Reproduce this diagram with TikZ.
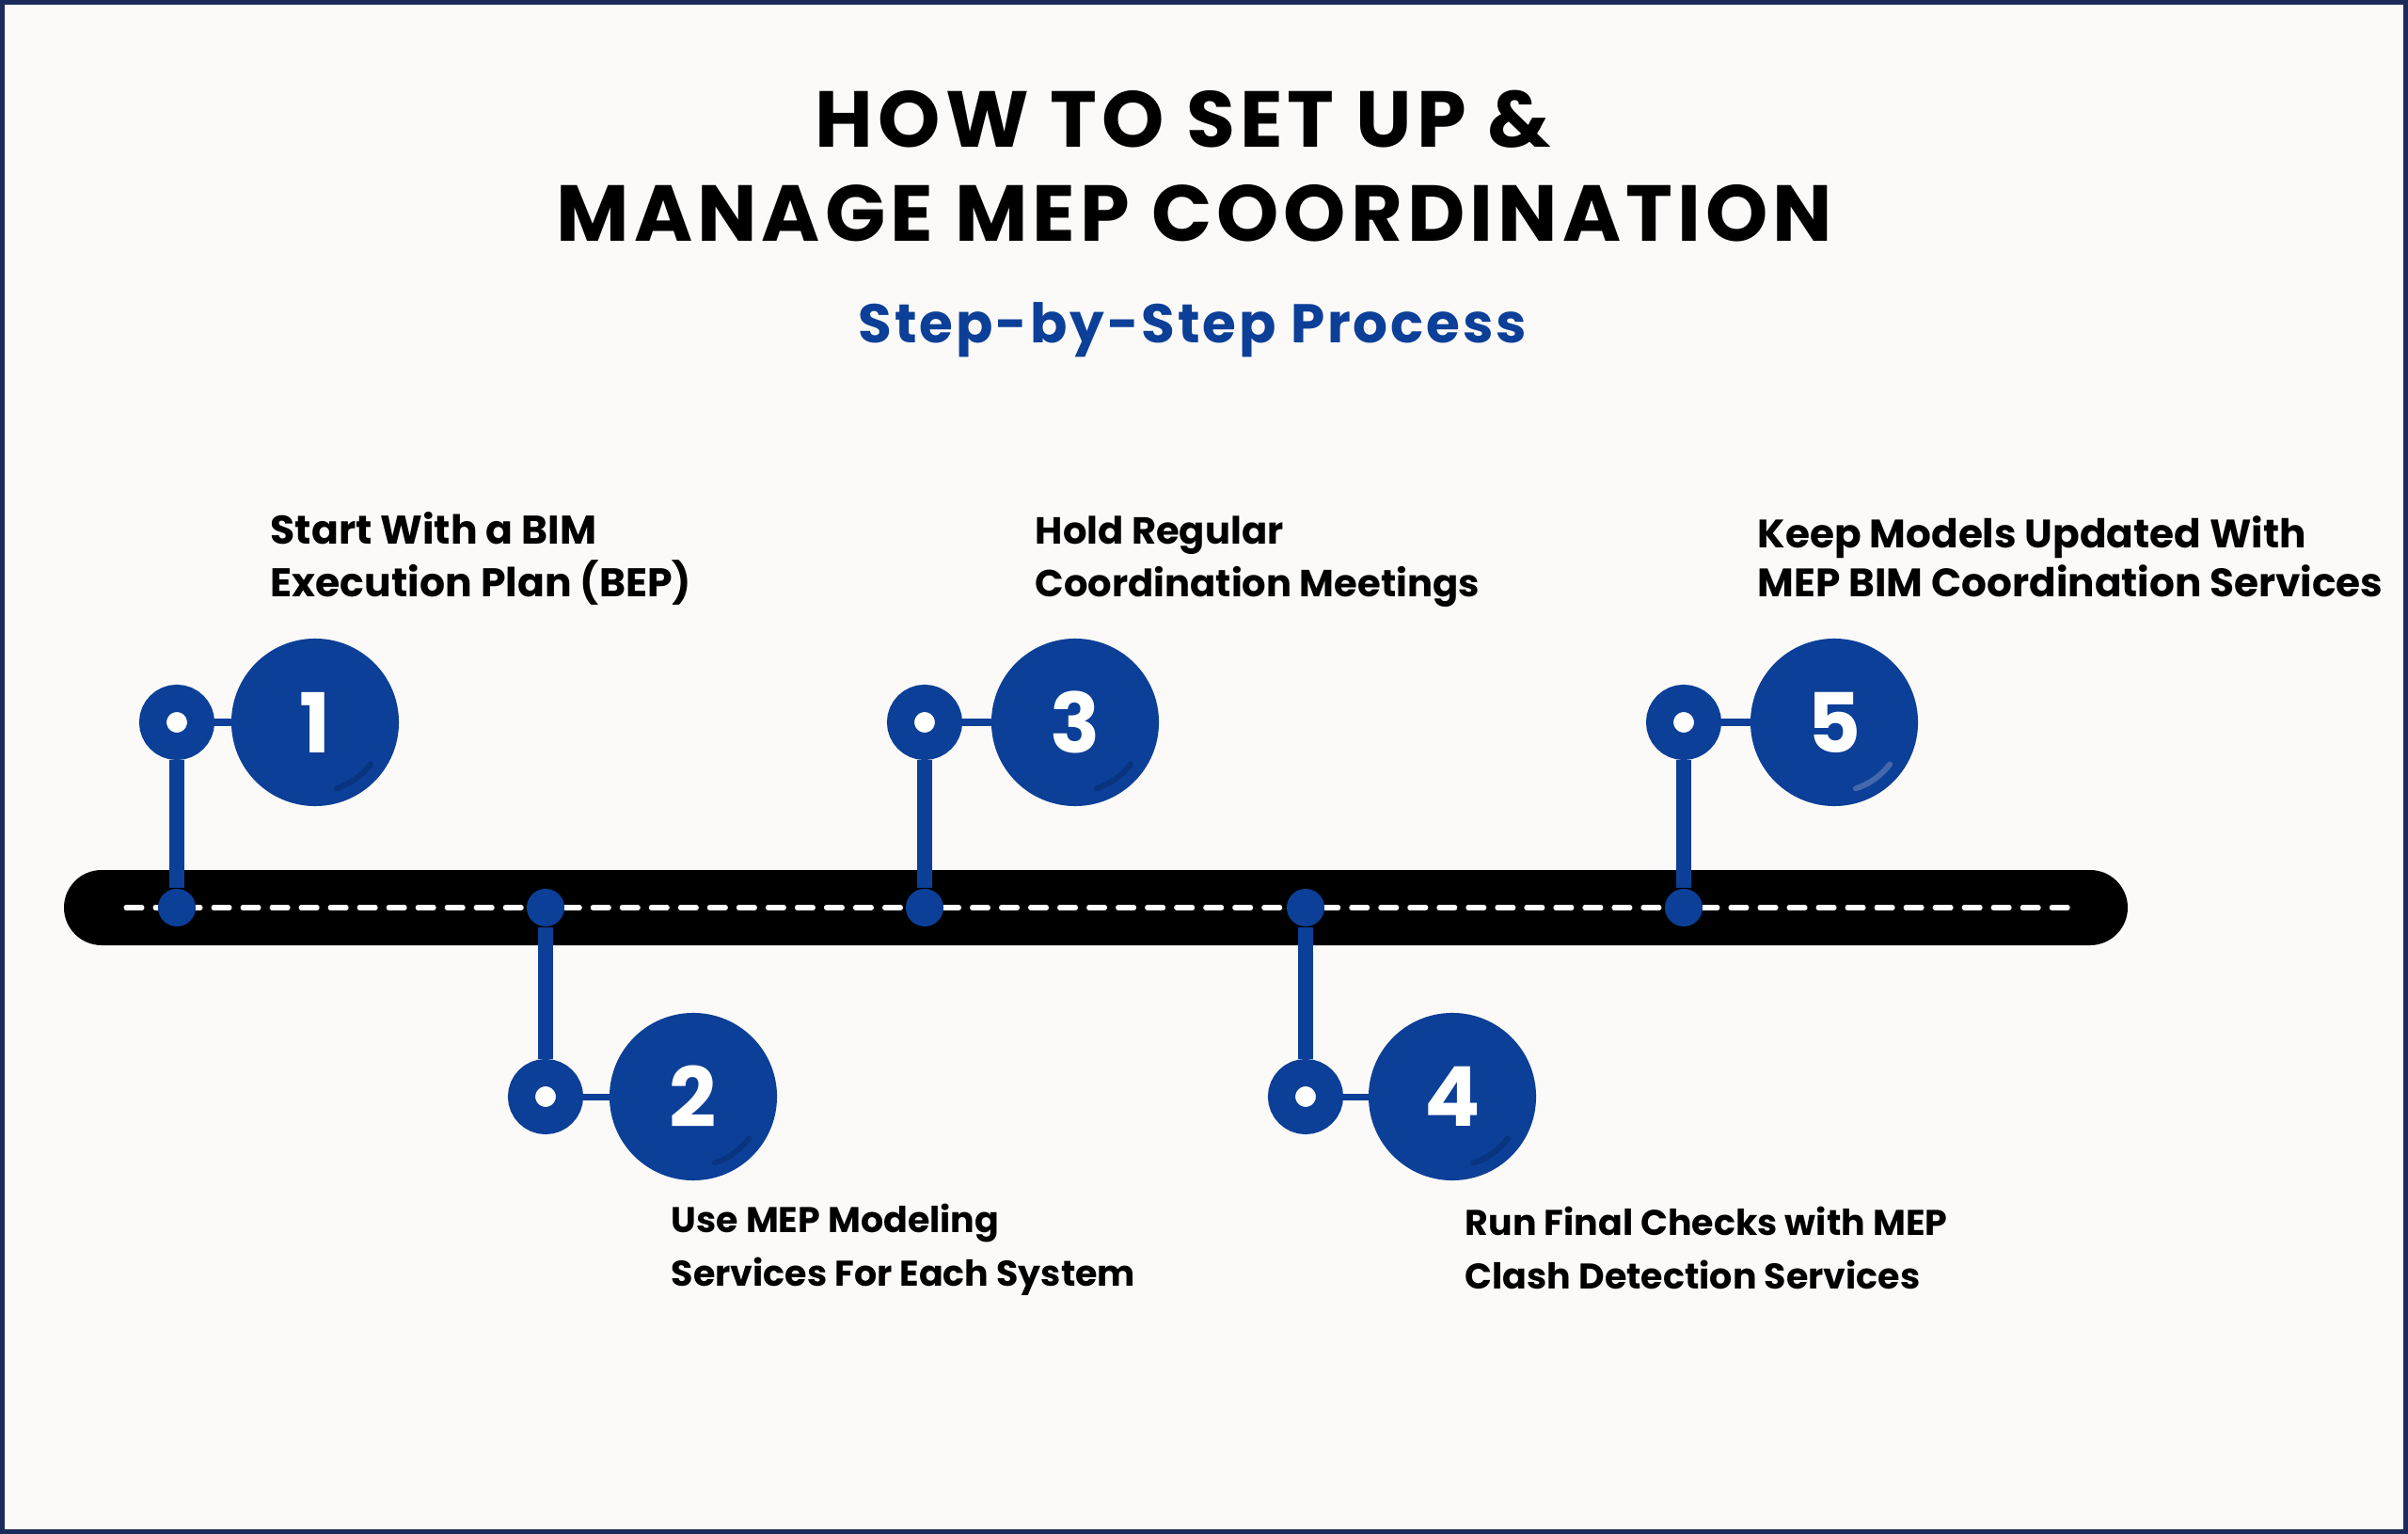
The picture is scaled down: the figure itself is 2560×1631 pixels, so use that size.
\documentclass[tikz,border=0pt]{standalone}
\usepackage{fontspec}
\setmainfont{Poppins}
\usetikzlibrary{positioning}
\definecolor{mepblue}{HTML}{0C3F97}
\definecolor{mepdark}{HTML}{083480}
\definecolor{mepglow}{HTML}{4468AC}
\definecolor{framenavy}{HTML}{1A2A5A}
\definecolor{paper}{HTML}{FBFAF9}
\tikzset{
  stemline/.style={draw=mepblue, line width=0.16cm},
  linkline/.style={draw=mepblue, line width=0.07cm, line cap=round},
  bardot/.style={circle, fill=mepblue, minimum size=0.4cm, inner sep=0pt},
  ringnode/.style={circle, draw=mepblue, fill=white, line width=0.29cm, minimum size=0.51cm, inner sep=0pt},
  numnode/.style={circle, fill=mepblue, minimum size=1.78cm, inner sep=0pt, text=white,
    font=\fontsize{25}{25}\selectfont\bfseries},
  glossarc/.style={line width=0.06cm, line cap=round},
  steptext/.style={anchor=base west, align=left, inner sep=0pt,
    font=\fontsize{#1}{16}\selectfont\bfseries},
}

\begin{document}
\begin{tikzpicture}[
  x=0.01cm, y=-0.01cm,
  titletext/.style={anchor=base, inner sep=0pt,
    font=\fontsize{24}{28}\selectfont\bfseries\addfontfeatures{LetterSpace=6}},
  subtext/.style={anchor=base, inner sep=0pt, text=mepblue,
    font=\fontsize{16.5}{20}\selectfont\bfseries\addfontfeatures{LetterSpace=5}},
]
  \useasboundingbox (0,0) rectangle (2560,1631);
  \fill[paper] (0,0) rectangle (2560,1631);
  \draw[framenavy, line width=0.1cm] (0,0) rectangle (2560,1631);

  % title
  \node[titletext] (title1) at (1258,157) {HOW TO SET UP \&};
  \node[titletext] (title2) at (1270,257) {MANAGE MEP COORDINATION};
  \node[subtext] (subtitle) at (1268,365) {Step-by-Step Process};

  % timeline bar
  \fill[black, rounded corners=0.4cm] (68,925) rectangle (2262,1005);
  \draw[white, line width=0.05cm, line cap=round, dash pattern=on 0.17cm off 0.14cm]
    (134,965) -- (2202,965);

  % steps
  \foreach \i/\rx/\ry/\bx/\gc in {1/188/768/335/mepdark, 2/580/1166/737/mepdark,
      3/983/768/1143/mepdark, 4/1388/1166/1544/mepdark, 5/1790/768/1950/mepglow}{
    \node[bardot] (dot\i) at (\rx,965) {};
    \node[ringnode] (ring\i) at (\rx,\ry) {};
    \node[numnode] (num\i) at (\bx,\ry) {\i};
    \draw[stemline] (dot\i) -- (ring\i);
    \draw[linkline] (ring\i.east) -- (num\i.west);
    \draw[glossarc, draw=\gc] (num\i) ++(37:74) arc[start angle=37, end angle=72, radius=74];
  }

  % step labels (placed by the baseline of their last line)
  \node[steptext=12.1] (txt1) at (287,635) {Start With a BIM\\Execution Plan (BEP)};
  \node[steptext=10.8] (txt2) at (713,1367) {Use MEP Modeling\\Services For Each System};
  \node[steptext=11.4] (txt3) at (1100,635) {Hold Regular\\Coordination Meetings};
  \node[steptext=10.8] (txt4) at (1557,1370) {Run Final Checks with MEP\\Clash Detection Services};
  \node[steptext=12] (txt5) at (1868,635) {Keep Models Updated With\\[-1.2pt]MEP BIM Coordination Services};
\end{tikzpicture}
\end{document}
